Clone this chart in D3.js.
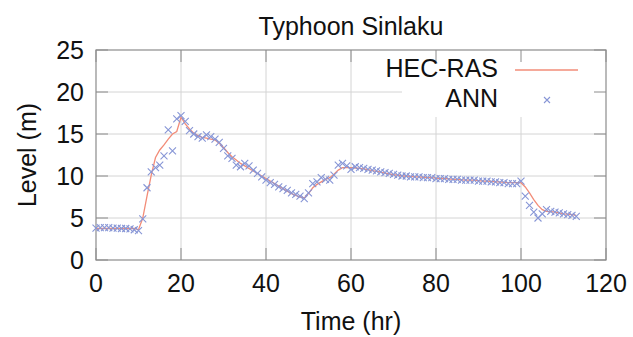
<!DOCTYPE html>
<html>
<head>
<meta charset="utf-8">
<script src="https://cdn.jsdelivr.net/npm/d3@7"></script>
<style>
  body { margin: 0; background: #fff; }
  svg { display: block; font-family: "Liberation Sans", Arial, Helvetica, sans-serif; }
</style>
</head>
<body>
<svg id="chart"></svg>
<script>
// data, hourly samples starting at t = 0
const title = 'Typhoon Sinlaku';
const xTicks = [0, 20, 40, 60, 80, 100, 120];
const yTicks = [0, 5, 10, 15, 20, 25];
const hecRas = [
  3.75, 3.75, 3.75, 3.75, 3.75, 3.75, 3.75, 3.75, 3.75, 3.75,
  3.6, 5.0, 7.6, 10.1, 12.2, 13.1, 13.7, 14.4, 15.0, 15.3,
  17.0, 16.2, 15.6, 15.1, 14.8, 14.6, 14.5, 14.4, 14.3, 13.9,
  13.4, 12.8, 12.3, 11.9, 11.5, 11.2, 10.9, 10.6, 10.3, 10.0,
  9.7, 9.4, 9.1, 8.8, 8.5, 8.2, 7.9, 7.7, 7.5, 7.4,
  7.9, 8.6, 9.0, 9.3, 9.6, 9.8, 10.2, 10.7, 11.0, 11.0,
  11.0, 10.95, 10.9, 10.85, 10.75, 10.65, 10.55, 10.45, 10.35, 10.25,
  10.15, 10.1, 10.0, 10.0, 9.95, 9.9, 9.9, 9.85, 9.8, 9.8,
  9.75, 9.7, 9.7, 9.65, 9.6, 9.6, 9.55, 9.5, 9.5, 9.5,
  9.45, 9.4, 9.4, 9.35, 9.3, 9.3, 9.25, 9.2, 9.2, 9.2,
  9.2, 8.7, 8.0, 7.2, 6.5, 6.0, 5.8, 5.75, 5.7, 5.6,
  5.5, 5.45, 5.4, 5.3
];
const ann = [
  3.8, 3.85, 3.85, 3.85, 3.8, 3.8, 3.75, 3.75, 3.7, 3.6,
  3.5, 4.9, 8.6, 10.5, 11.0, 11.3, 12.4, 15.5, 13.0, 16.8,
  17.2, 16.5, 15.4, 15.0, 14.7, 14.5, 14.9, 14.7, 14.4, 14.0,
  13.3, 12.4, 12.1, 11.3, 11.1, 11.5, 11.2, 10.7, 10.3, 9.9,
  9.5, 9.2, 9.0, 8.7, 8.5, 8.3, 8.0, 7.8, 7.6, 7.3,
  8.0, 9.1, 9.3, 9.8, 9.6, 9.5, 10.1, 11.3, 11.5, 11.2,
  10.8, 11.1, 11.0, 10.9, 10.8, 10.7, 10.6, 10.5, 10.4, 10.3,
  10.2, 10.1, 10.0, 10.0, 9.9, 9.9, 9.9, 9.8, 9.8, 9.8,
  9.7, 9.7, 9.7, 9.6, 9.6, 9.6, 9.5, 9.5, 9.5, 9.5,
  9.4, 9.4, 9.4, 9.3, 9.3, 9.2, 9.2, 9.1, 9.1, 9.1,
  9.4, 7.6, 6.5, 5.7, 5.0, 5.5, 6.0, 5.8, 5.7, 5.6,
  5.5, 5.4, 5.3, 5.2
];

const width = 633;
const height = 337;
const margin = { top: 50, right: 27, bottom: 77, left: 96 };
const lineColor = '#f28c78';
const annColor = '#8796d6';
const gridColor = '#d4d4d4';
const frameColor = '#8c8c8c';
const fontSize = 25;

const svg = d3.select('#chart').attr('width', width).attr('height', height);

const x = d3.scaleLinear().domain([0, 120]).range([margin.left, width - margin.right]);
const y = d3.scaleLinear().domain([0, 25]).range([height - margin.bottom, margin.top]);

// grid
const grid = svg.append('g');
grid.selectAll('line.gx')
  .data(xTicks.slice(1, -1))
  .enter()
  .append('line')
  .attr('x1', (d) => x(d)).attr('x2', (d) => x(d))
  .attr('y1', y(0)).attr('y2', y(25))
  .attr('stroke', gridColor).attr('stroke-width', 1);
grid.selectAll('line.gy')
  .data(yTicks.slice(1, -1))
  .enter()
  .append('line')
  .attr('x1', x(0)).attr('x2', x(120))
  .attr('y1', (d) => y(d)).attr('y2', (d) => y(d))
  .attr('stroke', gridColor).attr('stroke-width', 1);

// legend background hides the grid
svg.append('rect')
  .attr('x', 402).attr('y', y(25))
  .attr('width', x(120) - 402).attr('height', 67)
  .attr('fill', '#fff');

// inner ticks on all four sides
const tickLen = 12;
const ticks = svg.append('g').attr('stroke', frameColor).attr('stroke-width', 1);
xTicks.forEach((t) => {
  ticks.append('line').attr('x1', x(t)).attr('x2', x(t)).attr('y1', y(0)).attr('y2', y(0) - tickLen);
  ticks.append('line').attr('x1', x(t)).attr('x2', x(t)).attr('y1', y(25)).attr('y2', y(25) + tickLen);
});
yTicks.forEach((t) => {
  ticks.append('line').attr('x1', x(0)).attr('x2', x(0) + tickLen).attr('y1', y(t)).attr('y2', y(t));
  ticks.append('line').attr('x1', x(120)).attr('x2', x(120) - tickLen).attr('y1', y(t)).attr('y2', y(t));
});

// frame
svg.append('rect')
  .attr('x', x(0)).attr('y', y(25))
  .attr('width', x(120) - x(0)).attr('height', y(0) - y(25))
  .attr('fill', 'none').attr('stroke', frameColor).attr('stroke-width', 1.2);

// tick labels
svg.append('g')
  .selectAll('text')
  .data(xTicks)
  .enter()
  .append('text')
  .attr('x', (d) => x(d))
  .attr('y', y(0) + 32)
  .attr('text-anchor', 'middle')
  .attr('font-size', fontSize)
  .attr('fill', '#111')
  .text((d) => d);
svg.append('g')
  .selectAll('text')
  .data(yTicks)
  .enter()
  .append('text')
  .attr('x', x(0) - 12)
  .attr('y', (d) => y(d) + 9)
  .attr('text-anchor', 'end')
  .attr('font-size', fontSize)
  .attr('fill', '#111')
  .text((d) => d);

// titles
svg.append('text')
  .attr('x', (x(0) + x(120)) / 2).attr('y', 35)
  .attr('text-anchor', 'middle').attr('font-size', fontSize).attr('fill', '#111')
  .text(title);
svg.append('text')
  .attr('x', (x(0) + x(120)) / 2).attr('y', 330)
  .attr('text-anchor', 'middle').attr('font-size', fontSize).attr('fill', '#111')
  .text('Time (hr)');
svg.append('text')
  .attr('transform', `translate(36, ${(y(0) + y(25)) / 2}) rotate(-90)`)
  .attr('text-anchor', 'middle').attr('font-size', fontSize).attr('fill', '#111')
  .text('Level (m)');

// HEC-RAS line
const line = d3.line().x((d, i) => x(i)).y((d) => y(d));
svg.append('path')
  .datum(hecRas)
  .attr('d', line)
  .attr('fill', 'none')
  .attr('stroke', lineColor)
  .attr('stroke-width', 1.3);

// ANN crosses
const cross = (cx, cy, r) => `M${cx - r},${cy - r}L${cx + r},${cy + r}M${cx - r},${cy + r}L${cx + r},${cy - r}`;
svg.append('g')
  .selectAll('path')
  .data(ann)
  .enter()
  .append('path')
  .attr('d', (d, i) => cross(x(i), y(d), 3.5))
  .attr('stroke', annColor)
  .attr('stroke-width', 1.1)
  .attr('fill', 'none');

// legend
const legend = svg.append('g').attr('font-size', fontSize).attr('fill', '#111');
legend.append('text').attr('x', 498).attr('y', 77).attr('text-anchor', 'end').text('HEC-RAS');
legend.append('text').attr('x', 498).attr('y', 107).attr('text-anchor', 'end').text('ANN');
legend.append('line')
  .attr('x1', 515).attr('x2', 578).attr('y1', 70).attr('y2', 70)
  .attr('stroke', lineColor).attr('stroke-width', 1.3);
legend.append('path')
  .attr('d', cross(547, 100, 3))
  .attr('stroke', annColor).attr('stroke-width', 1.1).attr('fill', 'none');
</script>
</body>
</html>
